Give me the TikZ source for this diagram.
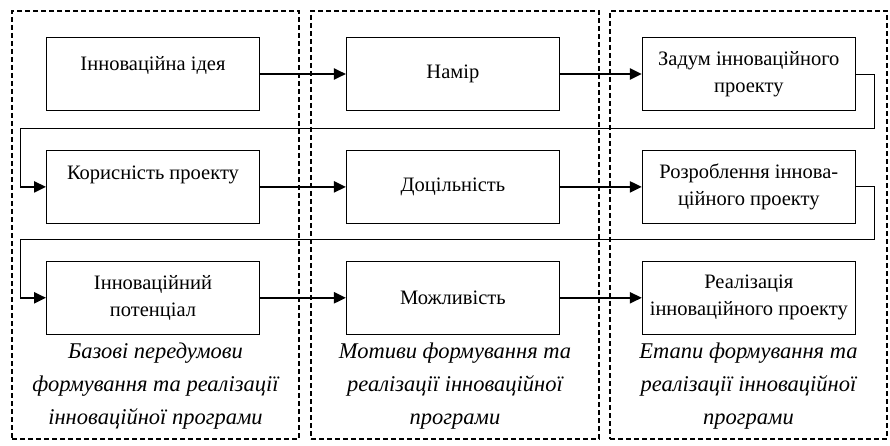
\documentclass[tikz,border=0pt]{standalone}
\usepackage{fontspec}
\setmainfont{Liberation Serif}
\usetikzlibrary{arrows.meta,positioning}

\begin{document}
\begin{tikzpicture}[
    x=1pt,y=1pt,
    stage/.style={rectangle,draw=black,line width=0.9pt,minimum width=213pt,
      minimum height=73pt,align=center,inner sep=2pt,
      font=\fontsize{20.5}{27}\selectfont},
    colframe/.style={rectangle,draw=black,line width=2pt,
      dash pattern=on 5pt off 3pt},
    colnote/.style={align=center,inner sep=0pt,
      font=\fontsize{22.5}{33}\selectfont\itshape},
    arrow/.style={-{Triangle[length=12pt,width=11pt]},line width=2.2pt},
    backline/.style={line width=0.9pt}
  ]
    \useasboundingbox (0,0) rectangle (890,445);

    % dashed column frames
    \node[colframe,minimum width=287pt,minimum height=428pt] (frameA) at (155.5,220) {};
    \node[colframe,minimum width=288pt,minimum height=428pt] (frameB) at (455,220) {};
    \node[colframe,minimum width=277pt,minimum height=428pt] (frameC) at (748.5,220) {};

    \node[stage] (idea) at (153,371) {\raisebox{3pt}[0pt][0pt]{Інноваційна ідея}};
    \node[stage,right=86pt of idea] (intent) {Намір};
    \node[stage,right=82pt of intent] (concept) {Задум інноваційного\\проекту};
    \node[stage,below=39pt of idea] (benefit) {\raisebox{7pt}[0pt][0pt]{Корисність проекту}};
    \node[stage,below=39pt of intent] (expedience) {Доцільність};
    \node[stage,below=39pt of concept] (design) {Розроблення іннова-\\ційного проекту};
    \node[stage,below=37pt of benefit] (potential) {Інноваційний\\потенціал};
    \node[stage,below=37pt of expedience] (possibility) {Можливість};
    \node[stage,below=37pt of design] (realisation) {Реалізація\\інноваційного проекту};

    \node[colnote] (noteA) at (155.5,59) {Базові передумови\\формування та реалізації\\інноваційної програми};
    \node[colnote] (noteB) at (455,59) {Мотиви формування та\\реалізації інноваційної\\програми};
    \node[colnote] (noteC) at (748.5,59) {Етапи формування та\\реалізації інноваційної\\програми};

    \draw[arrow] (idea) -- (intent);
    \draw[arrow] (intent) -- (concept);
    \draw[arrow] (benefit) -- (expedience);
    \draw[arrow] (expedience) -- (design);
    \draw[arrow] (potential) -- (possibility);
    \draw[arrow] (possibility) -- (realisation);

    % return lines to the next row
    \path (benefit.west) ++(-26,0) coordinate (entryA);
    \path (potential.west) ++(-26,0) coordinate (entryB);
    \draw[backline] (concept.east) -- ++(19,0) -- ++(0,-54) -| (entryA);
    \draw[arrow] (entryA) -- (benefit.west);
    \draw[backline] (design.east) -- ++(19,0) -- ++(0,-53) -| (entryB);
    \draw[arrow] (entryB) -- (potential.west);
  \end{tikzpicture}
\end{document}
